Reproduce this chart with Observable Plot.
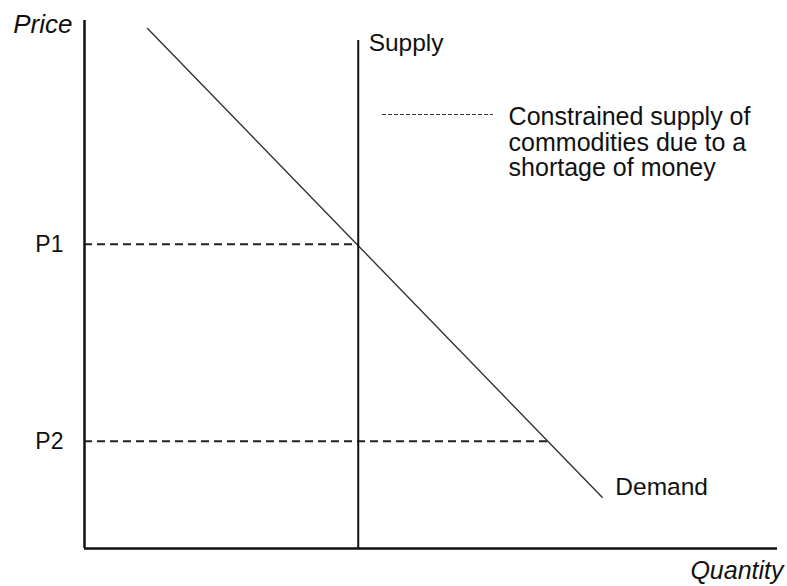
<!DOCTYPE html>
<html><head><meta charset="utf-8">
<script src="https://cdn.jsdelivr.net/npm/d3@7"></script>
<script src="https://cdn.jsdelivr.net/npm/@observablehq/plot@0.6"></script>
<style>body{margin:0;background:#fff}</style>
</head><body><div id="chart"></div>
<script>
// Price levels (y) and quantities where their dashed guides end
const priceLabels = ["P1", "P2"];
const priceValues = [57.6, 20.3];
const priceEndQ = [39.5, 66.9];
// Demand curve endpoints
const demandQ = [9.1, 74.7];
const demandP = [98.5, 9.7];
// Vertical (constrained) supply
const supplyQ = [39.5];
const supplyTop = 96.2;
// Annotation
const noteText = "Constrained supply of\ncommodities due to a\nshortage of money";
const leaderQ = [43, 59];
const leaderP = [82.2];

const demand = demandQ.map((q, i) => ({q, p: demandP[i]}));
const levels = priceLabels.map((label, i) => ({label, p: priceValues[i], q: priceEndQ[i]}));

const font = "'Liberation Sans', Arial, Helvetica, sans-serif";

const chart = Plot.plot({
  width: 787,
  height: 586,
  marginLeft: 84,
  marginRight: 10,
  marginTop: 20,
  marginBottom: 38,
  x: {domain: [0, 100], axis: null},
  y: {domain: [0, 100], axis: null},
  style: {fontFamily: font, background: "#fff", overflow: "visible"},
  marks: [
    Plot.ruleY(levels, {y: "p", x1: 0, x2: "q", stroke: "#222", strokeWidth: 2, strokeDasharray: "8,5"}),
    Plot.line(demand, {x: "q", y: "p", stroke: "#333", strokeWidth: 1.4}),
    Plot.ruleX(supplyQ, {y1: 0, y2: supplyTop, stroke: "#111", strokeWidth: 2}),
    Plot.ruleY(leaderP, {x1: leaderQ[0], x2: leaderQ[1], stroke: "#333", strokeWidth: 1.2, strokeDasharray: "4,2"}),
    Plot.ruleY([0], {x1: 0, x2: 100, stroke: "#111", strokeWidth: 2.5}),
    Plot.ruleX([0], {y1: 0, y2: 100, stroke: "#111", strokeWidth: 2.5}),
    Plot.text(levels, {x: 0, y: "p", text: "label", dx: -21, textAnchor: "end", fontSize: 23, fill: "#111"}),
    Plot.text(["Price"], {x: 0, y: 99.2, dx: -12, textAnchor: "end", fontSize: 26, fontStyle: "italic", fill: "#111"}),
    Plot.text(["Quantity"], {x: 100, y: 0, dx: 6, dy: 22, textAnchor: "end", fontSize: 25, fontStyle: "italic", fill: "#111"}),
    Plot.text(["Supply"], {x: 41, y: 95.8, textAnchor: "start", fontSize: 24.5, fill: "#111"}),
    Plot.text(["Demand"], {x: 76.6, y: 11.6, textAnchor: "start", fontSize: 24.5, fill: "#111"}),
    Plot.text([noteText], {x: 61.2, y: 76.9, textAnchor: "start", fontSize: 25, lineHeight: 1.03, fill: "#111"})
  ]
});
document.getElementById("chart").appendChild(chart);
</script>
</body></html>
